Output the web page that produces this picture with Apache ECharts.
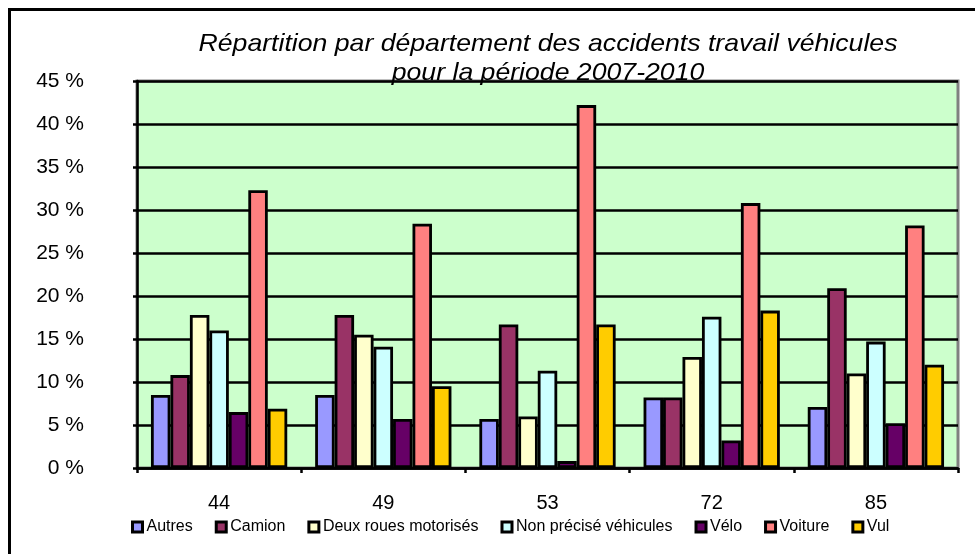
<!DOCTYPE html>
<html>
<head>
<meta charset="utf-8">
<script src="https://cdn.jsdelivr.net/npm/echarts@6/dist/echarts.min.js"></script>
<style>
html,body{margin:0;padding:0;background:#fff;overflow:hidden;}
#wrap{position:relative;width:975px;height:554px;overflow:hidden;}
#c{width:975px;height:554px;}
#frame{position:absolute;left:8px;top:8px;width:1200px;height:800px;border-left:3px solid #000;border-top:3px solid #000;pointer-events:none;}
</style>
</head>
<body>
<div id="wrap"><div id="c"></div><div id="frame"></div></div>
<script>
const titleLines = ['Répartition par département des accidents travail véhicules', 'pour la période 2007-2010'];
const categories = ['44', '49', '53', '72', '85'];
const seriesNames = ['Autres', 'Camion', 'Deux roues motorisés', 'Non précisé véhicules', 'Vélo', 'Voiture', 'Vul'];
const autres = [8.5, 8.5, 5.7, 8.2, 7.1];
const camion = [10.8, 17.8, 16.7, 8.2, 20.9];
const deuxRoues = [17.8, 15.5, 6.0, 12.9, 11.0];
const nonPrecise = [16.0, 14.1, 11.3, 17.6, 14.7];
const velo = [6.5, 5.7, 0.8, 3.2, 5.2];
const voiture = [32.3, 28.4, 42.2, 30.8, 28.2];
const vul = [6.9, 9.5, 16.7, 18.3, 12.0];
const yMin = 0, yMax = 45, yStep = 5;

const seriesData = [autres, camion, deuxRoues, nonPrecise, velo, voiture, vul];
const colors = ['#9999FF', '#993366', '#FFFFCC', '#CCFFFF', '#660066', '#FF8080', '#FFCC00'];

const chart = echarts.init(document.getElementById('c'), null, {renderer: 'canvas'});
const FONT = 'Arial, "Liberation Sans", sans-serif';

chart.setOption({
  animation: false,
  backgroundColor: '#ffffff',
  grid: {
    left: 137, top: 81, right: 17, bottom: 86, outerBoundsMode: 'none',
    show: true, backgroundColor: '#CCFFCC', borderColor: '#808080', borderWidth: 3
  },
  graphic: [
    {type: 'text', x: 548, y: 44, scaleX: 1.11, style: {text: titleLines[0], font: 'italic 24px ' + FONT, fill: '#000', align: 'center', verticalAlign: 'middle'}, z: 100},
    {type: 'text', x: 548, y: 73, scaleX: 1.11, style: {text: titleLines[1], font: 'italic 24px ' + FONT, fill: '#000', align: 'center', verticalAlign: 'middle'}, z: 100}
  ],
  legend: {
    left: 131, top: 519, padding: 0,
    itemWidth: 10, itemHeight: 10, itemGap: 22,
    icon: 'rect',
    itemStyle: {borderColor: '#000', borderWidth: 3},
    textStyle: {fontFamily: FONT, fontSize: 16, color: '#000', padding: [0, 0, 0, -1]},
    data: seriesNames
  },
  xAxis: {
    type: 'category', data: categories,
    axisLine: {lineStyle: {color: '#000', width: 2.5}},
    axisTick: {show: true, length: 5, lineStyle: {color: '#000', width: 2.5}},
    axisLabel: {fontFamily: FONT, fontSize: 20, color: '#000', margin: 25},
    splitLine: {show: false}
  },
  yAxis: {
    type: 'value', min: yMin, max: yMax, interval: yStep,
    axisLine: {show: true, lineStyle: {color: '#000', width: 2.5}},
    axisTick: {show: true, length: 4, lineStyle: {color: '#000', width: 2.5}},
    axisLabel: {fontFamily: FONT, fontSize: 21, color: '#000', margin: 53, formatter: '{value} %', align: 'right'},
    splitLine: {show: true, lineStyle: {color: '#000', width: 2.5}}
  },
  series: seriesNames.map((n, i) => ({
    name: n, type: 'bar', data: seriesData[i],
    barGap: '0%', barCategoryGap: '17%',
    itemStyle: {color: colors[i], borderColor: '#000', borderWidth: 2.8}
  }))
});
</script>
</body>
</html>
